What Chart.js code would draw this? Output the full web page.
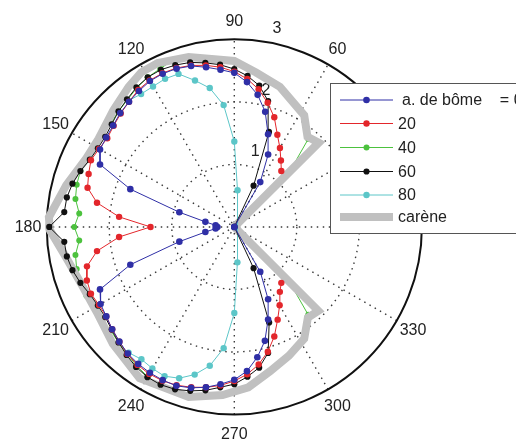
<!DOCTYPE html>
<html>
<head>
<meta charset="utf-8">
<script src="https://cdn.jsdelivr.net/npm/chart.js@4/dist/chart.umd.min.js"></script>
<style>
  html, body { margin: 0; padding: 0; background: #fff; }
  #wrap { width: 516px; height: 445px; }
</style>
</head>
<body>
<div id="wrap"><canvas id="polarChart" width="516" height="445"></canvas></div>
<script>
// ----- DATA (angle in degrees, speed as radius) -----
const seriesLabels = ["a. de bôme    = 0°", "20", "40", "60", "80"];
const hullLabel = "carène";
const angleTicks = [0, 30, 60, 90, 120, 150, 180, 210, 240, 270, 300, 330];
const radialTicks = [1, 2, 3];

const angles0 = [55, 60, 65, 70, 75, 80, 85, 90, 95, 100, 105, 110, 115, 120, 125, 130, 135, 140, 145, 150,
  155, 160, 165, 170, 175, 180, 185, 190, 195, 200, 205, 210, 215, 220, 225, 230, 235, 240, 245, 250,
  255, 260, 265, 270, 275, 280, 285, 290, 295, 300, 305];
const boom0 = [0, 0.83, 1.28, 1.58, 1.91, 2.15, 2.33, 2.47, 2.53, 2.60, 2.67, 2.70, 2.71, 2.70, 2.66, 2.62, 2.58, 2.53, 2.50, 2.48,
  2.37, 1.77, 0.91, 0.47, 0.30, 0.27, 0.30, 0.47, 0.91, 1.77, 2.37, 2.47, 2.50, 2.55, 2.60, 2.65, 2.68, 2.70, 2.71, 2.71,
  2.67, 2.61, 2.53, 2.45, 2.32, 2.12, 1.89, 1.58, 1.28, 0.83, 0];

const angles20 = [50, 55, 60, 65, 70, 75, 80, 85, 90, 95, 100, 105, 110, 115, 120, 125, 130, 135, 140, 145, 150,
  155, 160, 165, 170, 175, 180, 185, 190, 195, 200, 205, 210, 215, 220, 225, 230, 235, 240, 245, 250,
  255, 260, 265, 270, 275, 280, 285, 290, 295, 300, 305, 310];
const boom20 = [1.17, 1.30, 1.46, 1.63, 1.87, 2.06, 2.24, 2.38, 2.49, 2.57, 2.63, 2.68, 2.71, 2.72, 2.71, 2.68, 2.62, 2.57, 2.52, 2.48, 2.50,
  2.53, 2.48, 2.43, 2.23, 1.85, 1.34, 1.85, 2.23, 2.44, 2.51, 2.53, 2.50, 2.50, 2.55, 2.60, 2.66, 2.70, 2.72, 2.72, 2.70,
  2.66, 2.61, 2.55, 2.47, 2.37, 2.24, 2.07, 1.87, 1.64, 1.45, 1.27, 1.17];

const angles40 = [45, 50, 55, 60, 65, 70, 75, 80, 85, 90, 95, 100, 105, 110, 115, 120, 125, 130, 135, 140, 145, 150,
  155, 160, 165, 170, 175, 180, 185, 190, 195, 200, 205, 210, 215, 220, 225, 230, 235, 240, 245, 250,
  255, 260, 265, 270, 275, 280, 285, 290, 295, 300, 305, 310, 315];
const boom40 = [1.25, 1.84, 1.99, 2.13, 2.21, 2.31, 2.39, 2.46, 2.55, 2.66, 2.69, 2.74, 2.82, 2.85, 2.80, 2.77, 2.72, 2.66, 2.62, 2.58, 2.59, 2.59,
  2.61, 2.62, 2.61, 2.58, 2.49, 2.56, 2.49, 2.58, 2.61, 2.62, 2.61, 2.59, 2.59, 2.58, 2.62, 2.66, 2.72, 2.77, 2.81, 2.81,
  2.82, 2.75, 2.71, 2.64, 2.58, 2.46, 2.36, 2.28, 2.21, 2.13, 2.00, 1.84, 1.25];

const angles60 = [60, 65, 70, 75, 80, 85, 90, 95, 100, 105, 110, 115, 120, 125, 130, 135, 140, 145, 150,
  155, 160, 165, 170, 175, 180, 185, 190, 195, 200, 205, 210, 215, 220, 225, 230, 235, 240, 245, 250,
  255, 260, 265, 270, 275, 280, 285, 290, 295, 300];
const boom60 = [0, 0.73, 1.62, 2.09, 2.30, 2.43, 2.53, 2.61, 2.67, 2.73, 2.76, 2.78, 2.77, 2.73, 2.67, 2.62, 2.56, 2.52, 2.52,
  2.55, 2.62, 2.68, 2.72, 2.73, 2.96, 2.73, 2.72, 2.68, 2.62, 2.55, 2.52, 2.52, 2.56, 2.62, 2.68, 2.74, 2.78, 2.79, 2.77,
  2.72, 2.66, 2.58, 2.52, 2.41, 2.29, 2.09, 1.63, 0.73, 0];

const angles80 = [230, 235, 240, 245, 250, 255, 260, 265, 270, 275, 85, 90, 95, 100, 105, 110, 115, 120, 125, 130];
const boom80 = [2.63, 2.59, 2.62, 2.64, 2.58, 2.45, 2.26, 1.95, 1.38, 0.57, 0.59, 1.37, 1.96, 2.26, 2.43, 2.61, 2.62, 2.60, 2.60, 2.64];

const hullAngles = [0, 45, 51, 58, 72, 82, 90, 105, 115, 121, 127, 136, 147, 155, 166, 177,
  181, 190, 201, 212, 224, 238, 255, 266, 275, 284, 293, 302, 309, 315, 360];
const hullR = [0, 1.91, 1.86, 2.11, 2.36, 2.50, 2.66, 2.82, 2.90, 2.89, 2.81, 2.69, 2.59, 2.61, 2.77, 2.97,
  2.95, 2.74, 2.61, 2.59, 2.70, 2.86, 2.82, 2.70, 2.58, 2.38, 2.24, 2.11, 1.87, 1.90, 0];

// polar -> cartesian for the scatter scales
function toXY(angles, radii) {
  return angles.map((a, i) => ({
    x: radii[i] * Math.cos(a * Math.PI / 180),
    y: radii[i] * Math.sin(a * Math.PI / 180)
  }));
}

const PX = 63.33; // pixels per radial unit
const CX = 234, CY = 227;
const RMAX = 3;

function mkSeries(label, angles, radii, color, order, size) {
  return {
    label: label,
    data: toXY(angles, radii),
    showLine: true,
    borderColor: color,
    backgroundColor: color,
    borderWidth: 1,
    pointRadius: size,
    pointBorderWidth: 0,
    pointHoverRadius: size,
    order: order
  };
}

// lower order is drawn on top: hull covers the green curve only
const datasets = [
  mkSeries(seriesLabels[0], angles0, boom0, "#2f2fa6", 1, 3.3),
  mkSeries(seriesLabels[1], angles20, boom20, "#e3262b", 1, 3.2),
  mkSeries(seriesLabels[2], angles40, boom40, "#4cc23e", 3, 3),
  mkSeries(seriesLabels[3], angles60, boom60, "#111111", 1, 3.1),
  mkSeries(seriesLabels[4], angles80, boom80, "#5cc6c8", 1, 3.2),
  {
    label: hullLabel,
    data: toXY(hullAngles, hullR),
    showLine: true,
    borderColor: "#c0c0c0",
    backgroundColor: "#c0c0c0",
    borderWidth: 8,
    pointRadius: 0,
    order: 2
  }
];

// ----- POLAR GRID (drawn under the curves) -----
const polarGrid = {
  id: "polarGrid",
  beforeDatasetsDraw(chart) {
    const ctx = chart.ctx;
    const xs = chart.scales.x, ys = chart.scales.y;
    const cx = xs.getPixelForValue(0), cy = ys.getPixelForValue(0);
    const unit = xs.getPixelForValue(1) - cx;
    const R = RMAX * unit;
    ctx.save();
    // spokes
    ctx.strokeStyle = "#3a3a3a";
    ctx.lineWidth = 1.4;
    ctx.setLineDash([1.5, 4.5]);
    for (let a = 0; a < 180; a += 30) {
      const t = a * Math.PI / 180;
      ctx.beginPath();
      ctx.moveTo(cx - R * Math.cos(t), cy + R * Math.sin(t));
      ctx.lineTo(cx + R * Math.cos(t), cy - R * Math.sin(t));
      ctx.stroke();
    }
    // dotted rings
    radialTicks.forEach(v => {
      if (v >= RMAX) return;
      ctx.beginPath();
      ctx.arc(cx, cy, v * unit, 0, Math.PI * 2);
      ctx.stroke();
    });
    ctx.setLineDash([]);
    // outer circle
    ctx.strokeStyle = "#111";
    ctx.lineWidth = 2;
    ctx.beginPath();
    ctx.arc(cx, cy, R, 0, Math.PI * 2);
    ctx.stroke();
    // angle labels
    ctx.fillStyle = "#222";
    ctx.font = "16px 'Liberation Sans', Arial, sans-serif";
    ctx.textAlign = "center";
    ctx.textBaseline = "middle";
    angleTicks.forEach(a => {
      const t = a * Math.PI / 180;
      ctx.fillText(String(a), cx + 1.1 * R * Math.cos(t), cy - 1.1 * R * Math.sin(t) + 1);
    });
    // radial labels near 80 deg
    const t80 = 80 * Math.PI / 180;
    radialTicks.forEach(v => {
      ctx.fillText(String(v), cx + v * unit * Math.cos(t80) + 10, cy - v * unit * Math.sin(t80) - 13.5);
    });
    ctx.restore();
  }
};

// ----- LEGEND BOX (drawn on top) -----
const boxLegend = {
  id: "boxLegend",
  afterDraw(chart) {
    const ctx = chart.ctx;
    ctx.save();
    ctx.fillStyle = "#fff";
    ctx.fillRect(330.5, 83.5, 200, 150);
    ctx.strokeStyle = "#555";
    ctx.lineWidth = 1;
    ctx.strokeRect(330.5, 83.5, 200, 150);
    const rows = [100, 123.5, 147.5, 171.5, 195, 217];
    ctx.font = "16px 'Liberation Sans', Arial, sans-serif";
    ctx.textBaseline = "middle";
    ctx.textAlign = "left";
    chart.data.datasets.forEach((ds, i) => {
      const y = rows[i];
      ctx.strokeStyle = ds.borderColor;
      ctx.lineWidth = ds.borderWidth;
      ctx.beginPath();
      ctx.moveTo(340, y);
      ctx.lineTo(393, y);
      ctx.stroke();
      if (ds.pointRadius > 0) {
        ctx.fillStyle = ds.backgroundColor;
        ctx.beginPath();
        ctx.arc(366.5, y, ds.pointRadius, 0, Math.PI * 2);
        ctx.fill();
      }
      ctx.fillStyle = "#222";
      ctx.fillText(ds.label, i === 0 ? 402 : 398, y + 1);
    });
    ctx.restore();
  }
};

new Chart(document.getElementById("polarChart"), {
  type: "scatter",
  data: { datasets: datasets },
  options: {
    responsive: false,
    animation: false,
    devicePixelRatio: 1,
    layout: { padding: 0 },
    scales: {
      x: { type: "linear", display: false, min: -CX / PX, max: (516 - CX) / PX },
      y: { type: "linear", display: false, min: -(445 - CY) / PX, max: CY / PX }
    },
    plugins: {
      legend: { display: false },
      tooltip: { enabled: false }
    },
    elements: { line: { tension: 0, borderJoinStyle: "miter" } }
  },
  plugins: [polarGrid, boxLegend]
});
</script>
</body>
</html>
